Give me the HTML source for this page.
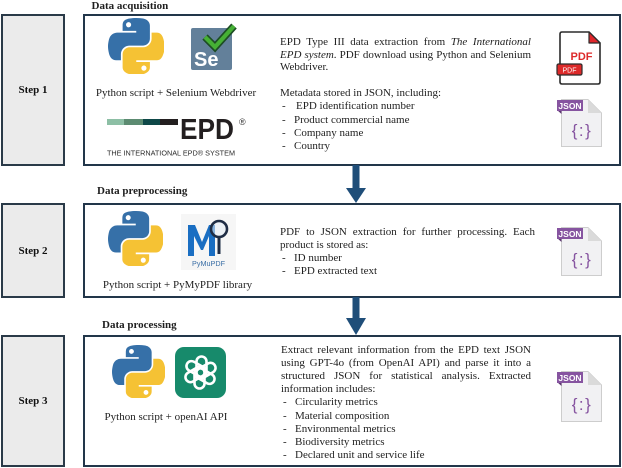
<!DOCTYPE html>
<html><head><meta charset="utf-8">
<style>
*{margin:0;padding:0;box-sizing:border-box}
html,body{width:622px;height:468px;background:#fff;overflow:hidden}
body{position:relative;font-family:"Liberation Serif",serif;color:#1e1e1e}
.a{position:absolute}
.t{position:absolute;font-size:11px;line-height:13px;white-space:nowrap}
.j{position:absolute;font-size:11px;line-height:13px;text-align:justify;text-align-last:justify;white-space:normal}
.h{position:absolute;font-weight:bold;font-size:11px;line-height:13px;white-space:nowrap}
.c{position:absolute;font-size:11px;line-height:14px;white-space:nowrap;text-align:center}
.step{position:absolute;left:1px;width:64px;background:#ebebeb;border:2px solid #2a3a48;display:flex;align-items:center;justify-content:center;font-weight:bold;font-size:11px;color:#111}
.box{position:absolute;left:83px;width:538px;border:2px solid #22364a;background:#fff}
</style></head><body>

<div class="step" style="top:14px;height:152px">Step 1</div>
<div class="step" style="top:203px;height:95px">Step 2</div>
<div class="step" style="top:335px;height:132px">Step 3</div>

<div class="box" style="top:14px;height:152px"></div>
<div class="box" style="top:203px;height:95px"></div>
<div class="box" style="top:335px;height:132px"></div>

<svg class="a" style="left:0;top:0" width="622" height="468" viewBox="0 0 622 468">
<defs>
<symbol id="py" viewBox="0 0 110 110">
<path fill="#3670a8" fill-rule="evenodd" d="M54.92,0 C50.34,0.02 45.96,0.41 42.11,1.09 30.76,3.1 28.7,7.29 28.7,15.03 v10.22 h26.81 v3.41 h-26.81 -10.06 c-7.790,0 -14.62,4.68 -16.75,13.59 -2.46,10.21 -2.57,16.59 0,27.25 1.91,7.94 6.46,13.59 14.25,13.59 h9.22 v-12.25 c0,-8.85 7.66,-16.66 16.75,-16.66 h26.78 c7.45,0 13.41,-6.14 13.41,-13.63 v-25.53 c0,-7.27 -6.13,-12.72 -13.41,-13.94 C64.28,0.33 59.5,-0.02 54.92,0 Z m-14.5,8.22 c2.77,0 5.03,2.3 5.03,5.12 0,2.82 -2.26,5.09 -5.03,5.09 -2.78,0 -5.03,-2.28 -5.03,-5.09 0,-2.83 2.25,-5.12 5.030,-5.12 z"/>
<path fill="#f5c234" fill-rule="evenodd" d="M85.64,28.66 v11.91 c0,9.23 -7.83,17 -16.75,17 h-26.78 c-7.34,0 -13.41,6.28 -13.41,13.63 v25.53 c0,7.27 6.32,11.54 13.41,13.63 8.49,2.5 16.63,2.95 26.78,0 6.75,-1.95 13.41,-5.89 13.41,-13.63 V86.5 h-26.78 v-3.41 h26.78 13.41 c7.79,0 10.7,-5.44 13.41,-13.59 2.8,-8.4 2.68,-16.48 0,-27.25 -1.93,-7.76 -5.6,-13.59 -13.41,-13.59 z m-15.06,64.66 c2.78,0 5.03,2.28 5.03,5.09 0,2.83 -2.25,5.13 -5.03,5.13 -2.77,0 -5.03,-2.3 -5.03,-5.13 0,-2.82 2.26,-5.09 5.03,-5.09 z"/>
</symbol>
</defs>

<!-- arrows -->
<rect x="352.5" y="165" width="7" height="24" fill="#1f4e79"/>
<polygon points="346,188 366,188 356,203" fill="#1f4e79"/>
<rect x="352.5" y="297" width="7" height="22" fill="#1f4e79"/>
<polygon points="346,318 366,318 356,335" fill="#1f4e79"/>

<!-- python logos -->
<use href="#py" x="108" y="18" width="56" height="56"/>
<use href="#py" x="108" y="211" width="55" height="55"/>
<use href="#py" x="112" y="345" width="53" height="53"/>

<!-- selenium -->
<rect x="191" y="28" width="41" height="42" rx="2" fill="#63809a"/>
<text x="194" y="66" font-family="Liberation Sans, sans-serif" font-weight="bold" font-size="20" fill="#fff">Se</text>
<polyline points="205,37 215,47 234,26" fill="none" stroke="#1d4d24" stroke-width="7.5" stroke-linejoin="miter"/>
<polyline points="205,37 215,47 234,26" fill="none" stroke="#46b035" stroke-width="4.2"/>

<!-- EPD logo -->
<rect x="107" y="119" width="17" height="6" fill="#8dbfa5"/>
<rect x="124" y="119" width="19" height="6" fill="#5c8b71"/>
<rect x="143" y="119" width="17" height="6" fill="#0e4848"/>
<rect x="160" y="119" width="18" height="6" fill="#231f20"/>
<text x="180" y="139" font-family="Liberation Sans, sans-serif" font-weight="bold" font-size="29" textLength="54" lengthAdjust="spacingAndGlyphs" fill="#231f20">EPD</text>
<text x="239" y="125" font-family="Liberation Sans, sans-serif" font-size="9" fill="#333">®</text>
<text x="107" y="155.5" font-family="Liberation Sans, sans-serif" font-size="7.2" textLength="128" lengthAdjust="spacingAndGlyphs" fill="#2a2a2a">THE INTERNATIONAL  EPD® SYSTEM</text>

<!-- PyMuPDF logo -->
<rect x="181" y="214" width="55" height="56" fill="#f6f6f6"/>
<path d="M188,256 V225 H195 L202,242 L209,225 H215 V256 H209 V236 L203,250 H201 L194,236 V256 Z" fill="#1a6ec2"/>
<circle cx="219" cy="229" r="8" fill="#e3ecf5" fill-opacity="0.55" stroke="#1f2d45" stroke-width="2.6"/>
<rect x="217.5" y="237" width="3" height="17" fill="#1f2d45"/>
<text x="192" y="266" font-family="Liberation Sans, sans-serif" font-size="7" textLength="33" lengthAdjust="spacingAndGlyphs" fill="#3a6ea5">PyMuPDF</text>

<!-- OpenAI logo -->
<rect x="175" y="347" width="51" height="51" rx="9" fill="#178a6b"/>
<g transform="translate(200.5,372.5)" fill="none" stroke="#fff" stroke-width="2.6">
<rect x="-4" y="-16" width="10" height="21" rx="5"/>
<rect x="-4" y="-16" width="10" height="21" rx="5" transform="rotate(60)"/>
<rect x="-4" y="-16" width="10" height="21" rx="5" transform="rotate(120)"/>
<rect x="-4" y="-16" width="10" height="21" rx="5" transform="rotate(180)"/>
<rect x="-4" y="-16" width="10" height="21" rx="5" transform="rotate(240)"/>
<rect x="-4" y="-16" width="10" height="21" rx="5" transform="rotate(300)"/>
</g>

<!-- PDF icon -->
<g transform="translate(556,31)">
<path d="M6,1 H33 L44,12 V51 Q44,53 42,53 H6 Q4,53 4,51 V3 Q4,1 6,1 Z" fill="#fff" stroke="#2b2b2b" stroke-width="1.6"/>
<path d="M33,1 V12 H44 Z" fill="#e0262b" stroke="#2b2b2b" stroke-width="1.2" stroke-linejoin="round"/>
<text x="25.5" y="29" font-family="Liberation Sans, sans-serif" font-weight="bold" font-size="11" fill="#dd2a2a" text-anchor="middle">PDF</text>
<rect x="1" y="33" width="25" height="11" rx="1.5" fill="#dd2a2a" stroke="#2b2b2b" stroke-width="1.2"/>
<text x="13.5" y="41.5" font-family="Liberation Sans, sans-serif" font-size="7" fill="#fff" text-anchor="middle">PDF</text>
</g>

<!-- JSON icons -->
<g transform="translate(557,99)">
<path d="M4.5,0.5 H31 L44.5,14 V47.5 H4.5 Z" fill="#f1f1f3" stroke="#cdcdcd"/>
<path d="M31,0.5 V14 H44.5 Z" fill="#dadada"/>
<path d="M0,11 L4.5,11 L4.5,15 Z" fill="#5b3570"/>
<rect x="0" y="1" width="26" height="11" fill="#8654a0"/>
<text x="13" y="10" font-family="Liberation Sans, sans-serif" font-weight="bold" font-size="8.5" fill="#fff" text-anchor="middle">JSON</text>
<text x="25" y="37" font-family="Liberation Sans, sans-serif" font-size="17" letter-spacing="1.5" fill="#8654a0" text-anchor="middle">{:}</text>
</g>
<g transform="translate(557,227)">
<path d="M4.5,0.5 H31 L44.5,14 V48.5 H4.5 Z" fill="#f1f1f3" stroke="#cdcdcd"/>
<path d="M31,0.5 V14 H44.5 Z" fill="#dadada"/>
<path d="M0,11 L4.5,11 L4.5,15 Z" fill="#5b3570"/>
<rect x="0" y="1" width="26" height="11" fill="#8654a0"/>
<text x="13" y="10" font-family="Liberation Sans, sans-serif" font-weight="bold" font-size="8.5" fill="#fff" text-anchor="middle">JSON</text>
<text x="25" y="38" font-family="Liberation Sans, sans-serif" font-size="17" letter-spacing="1.5" fill="#8654a0" text-anchor="middle">{:}</text>
</g>
<g transform="translate(557,371)">
<path d="M4.5,0.5 H31 L44.5,14 V50.5 H4.5 Z" fill="#f1f1f3" stroke="#cdcdcd"/>
<path d="M31,0.5 V14 H44.5 Z" fill="#dadada"/>
<path d="M0,11 L4.5,11 L4.5,15 Z" fill="#5b3570"/>
<rect x="0" y="1" width="26" height="11" fill="#8654a0"/>
<text x="13" y="10" font-family="Liberation Sans, sans-serif" font-weight="bold" font-size="8.5" fill="#fff" text-anchor="middle">JSON</text>
<text x="25" y="39" font-family="Liberation Sans, sans-serif" font-size="17" letter-spacing="1.5" fill="#8654a0" text-anchor="middle">{:}</text>
</g>
</svg>

<!-- titles -->
<div class="h" style="left:91.5px;top:-0.5px">Data acquisition</div>
<div class="h" style="left:97px;top:185px">Data preprocessing</div>
<div class="h" style="left:102px;top:319px">Data processing</div>

<!-- captions -->
<div class="c" style="left:76px;top:86px;width:200px">Python script + Selenium Webdriver</div>
<div class="c" style="left:77.5px;top:278px;width:200px">Python script + PyMyPDF library</div>
<div class="c" style="left:66px;top:410px;width:200px">Python script + openAI API</div>

<!-- Box 1 text -->
<div class="j" style="left:280px;top:36px;width:251px">EPD Type III data extraction from <i>The International</i></div>
<div class="j" style="left:280px;top:48.5px;width:251px"><i>EPD system</i>. PDF download using Python and Selenium</div>
<div class="t" style="left:280px;top:61px">Webdriver.</div>
<div class="t" style="left:280px;top:87.3px">Metadata stored in JSON, including:</div>
<div class="t" style="left:282px;top:100.4px">-</div><div class="t" style="left:296px;top:100.4px">EPD identification number</div>
<div class="t" style="left:282px;top:113.5px">-</div><div class="t" style="left:294px;top:113.5px">Product commercial name</div>
<div class="t" style="left:282px;top:126.6px">-</div><div class="t" style="left:294px;top:126.6px">Company name</div>
<div class="t" style="left:282px;top:139.7px">-</div><div class="t" style="left:294px;top:139.7px">Country</div>

<!-- Box 2 text -->
<div class="j" style="left:280px;top:225.7px;width:255px">PDF to JSON extraction for further processing. Each</div>
<div class="t" style="left:280px;top:238.9px">product is stored as:</div>
<div class="t" style="left:282px;top:252.1px">-</div><div class="t" style="left:294px;top:252.1px">ID number</div>
<div class="t" style="left:282px;top:265.3px">-</div><div class="t" style="left:294px;top:265.3px">EPD extracted text</div>

<!-- Box 3 text -->
<div class="j" style="left:281px;top:344px;width:250px">Extract relevant information from the EPD text JSON</div>
<div class="j" style="left:281px;top:357.1px;width:250px">using GPT-4o (from OpenAI API) and parse it into a</div>
<div class="j" style="left:281px;top:370.2px;width:250px">structured JSON for statistical analysis. Extracted</div>
<div class="t" style="left:281px;top:383.3px">information includes:</div>
<div class="t" style="left:283px;top:396.4px">-</div><div class="t" style="left:295px;top:396.4px">Circularity metrics</div>
<div class="t" style="left:283px;top:409.5px">-</div><div class="t" style="left:295px;top:409.5px">Material composition</div>
<div class="t" style="left:283px;top:422.6px">-</div><div class="t" style="left:295px;top:422.6px">Environmental metrics</div>
<div class="t" style="left:283px;top:435.7px">-</div><div class="t" style="left:295px;top:435.7px">Biodiversity metrics</div>
<div class="t" style="left:283px;top:448.8px">-</div><div class="t" style="left:295px;top:448.8px">Declared unit and service life</div>

</body></html>
